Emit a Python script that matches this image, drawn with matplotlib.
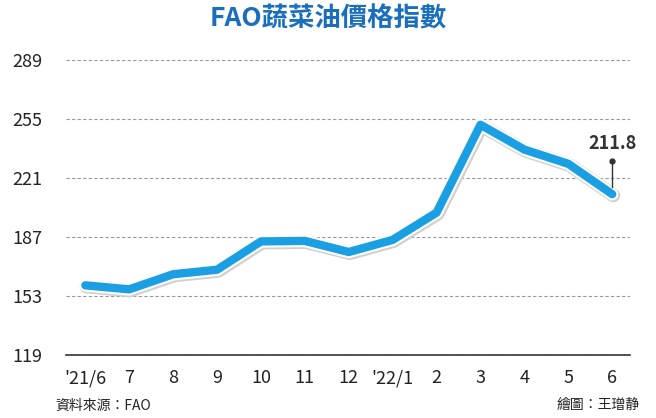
import matplotlib
matplotlib.use("Agg")
import matplotlib.pyplot as plt
import matplotlib.patheffects as pe

plt.rcParams['font.family'] = ['Noto Sans CJK TC', 'DejaVu Sans']

months = ["'21/6", "7", "8", "9", "10", "11", "12", "'22/1", "2", "3", "4", "5", "6"]
values = [159.3, 157.0, 165.7, 168.3, 184.6, 184.9, 178.5, 185.5, 201.2, 251.8, 237.5, 229.3, 211.8]
yticks = [119, 153, 187, 221, 255, 289]

fig = plt.figure(figsize=(6.56, 4.18), dpi=100)
fig.patch.set_facecolor('white')
ax = fig.add_axes([0.1, 0.15, 0.86, 0.706])
ax.set_facecolor('white')
x = list(range(len(months)))
ax.plot(x, values, color='#1b9fe3', lw=6, solid_capstyle='round', solid_joinstyle='round',
        path_effects=[pe.Stroke(linewidth=10, foreground='#d0d0d0', offset=(0.8, -0.8)),
                      pe.Stroke(linewidth=9, foreground='white'), pe.Normal()], zorder=3)
ax.set_xlim(-0.45, len(months) - 0.6)
ax.set_ylim(119, 289)
ax.set_yticks(yticks)
ax.set_yticklabels([str(t) for t in yticks], fontsize=13, color='#222222', ha='left')
ax.tick_params(axis='y', length=0, pad=38)
ax.set_xticks(x)
ax.set_xticklabels(months, fontsize=13, color='#222222')
ax.tick_params(axis='x', length=0, pad=10)
ax.grid(axis='y', ls=(0, (3, 2)), color='#999999', lw=0.8)
for s in ['top', 'right', 'left']:
    ax.spines[s].set_visible(False)
ax.spines['bottom'].set_color('#333333')
ax.spines['bottom'].set_linewidth(1.2)
ax.set_axisbelow(True)

last = len(months) - 1
ax.plot([last, last], [values[-1] + 4, values[-1] + 19], color='#333333', lw=1, zorder=4)
ax.plot([last], [values[-1] + 19], 'o', color='#333333', ms=3.5, zorder=4)
ax.text(last, values[-1] + 24, f"{values[-1]}", ha='center', va='bottom', fontsize=13,
        fontweight='bold', color='#333333')

fig.text(0.5, 0.955, "FAO蔬菜油價格指數", ha='center', va='center', fontsize=19,
         fontweight='bold', color='#1a6fbd')
fig.text(0.085, 0.03, "資料來源：FAO", ha='left', va='center', fontsize=10, color='#222222')
fig.text(0.975, 0.03, "繪圖：王璔静", ha='right', va='center', fontsize=10, color='#222222')
fig.savefig("out.png", dpi=100)
